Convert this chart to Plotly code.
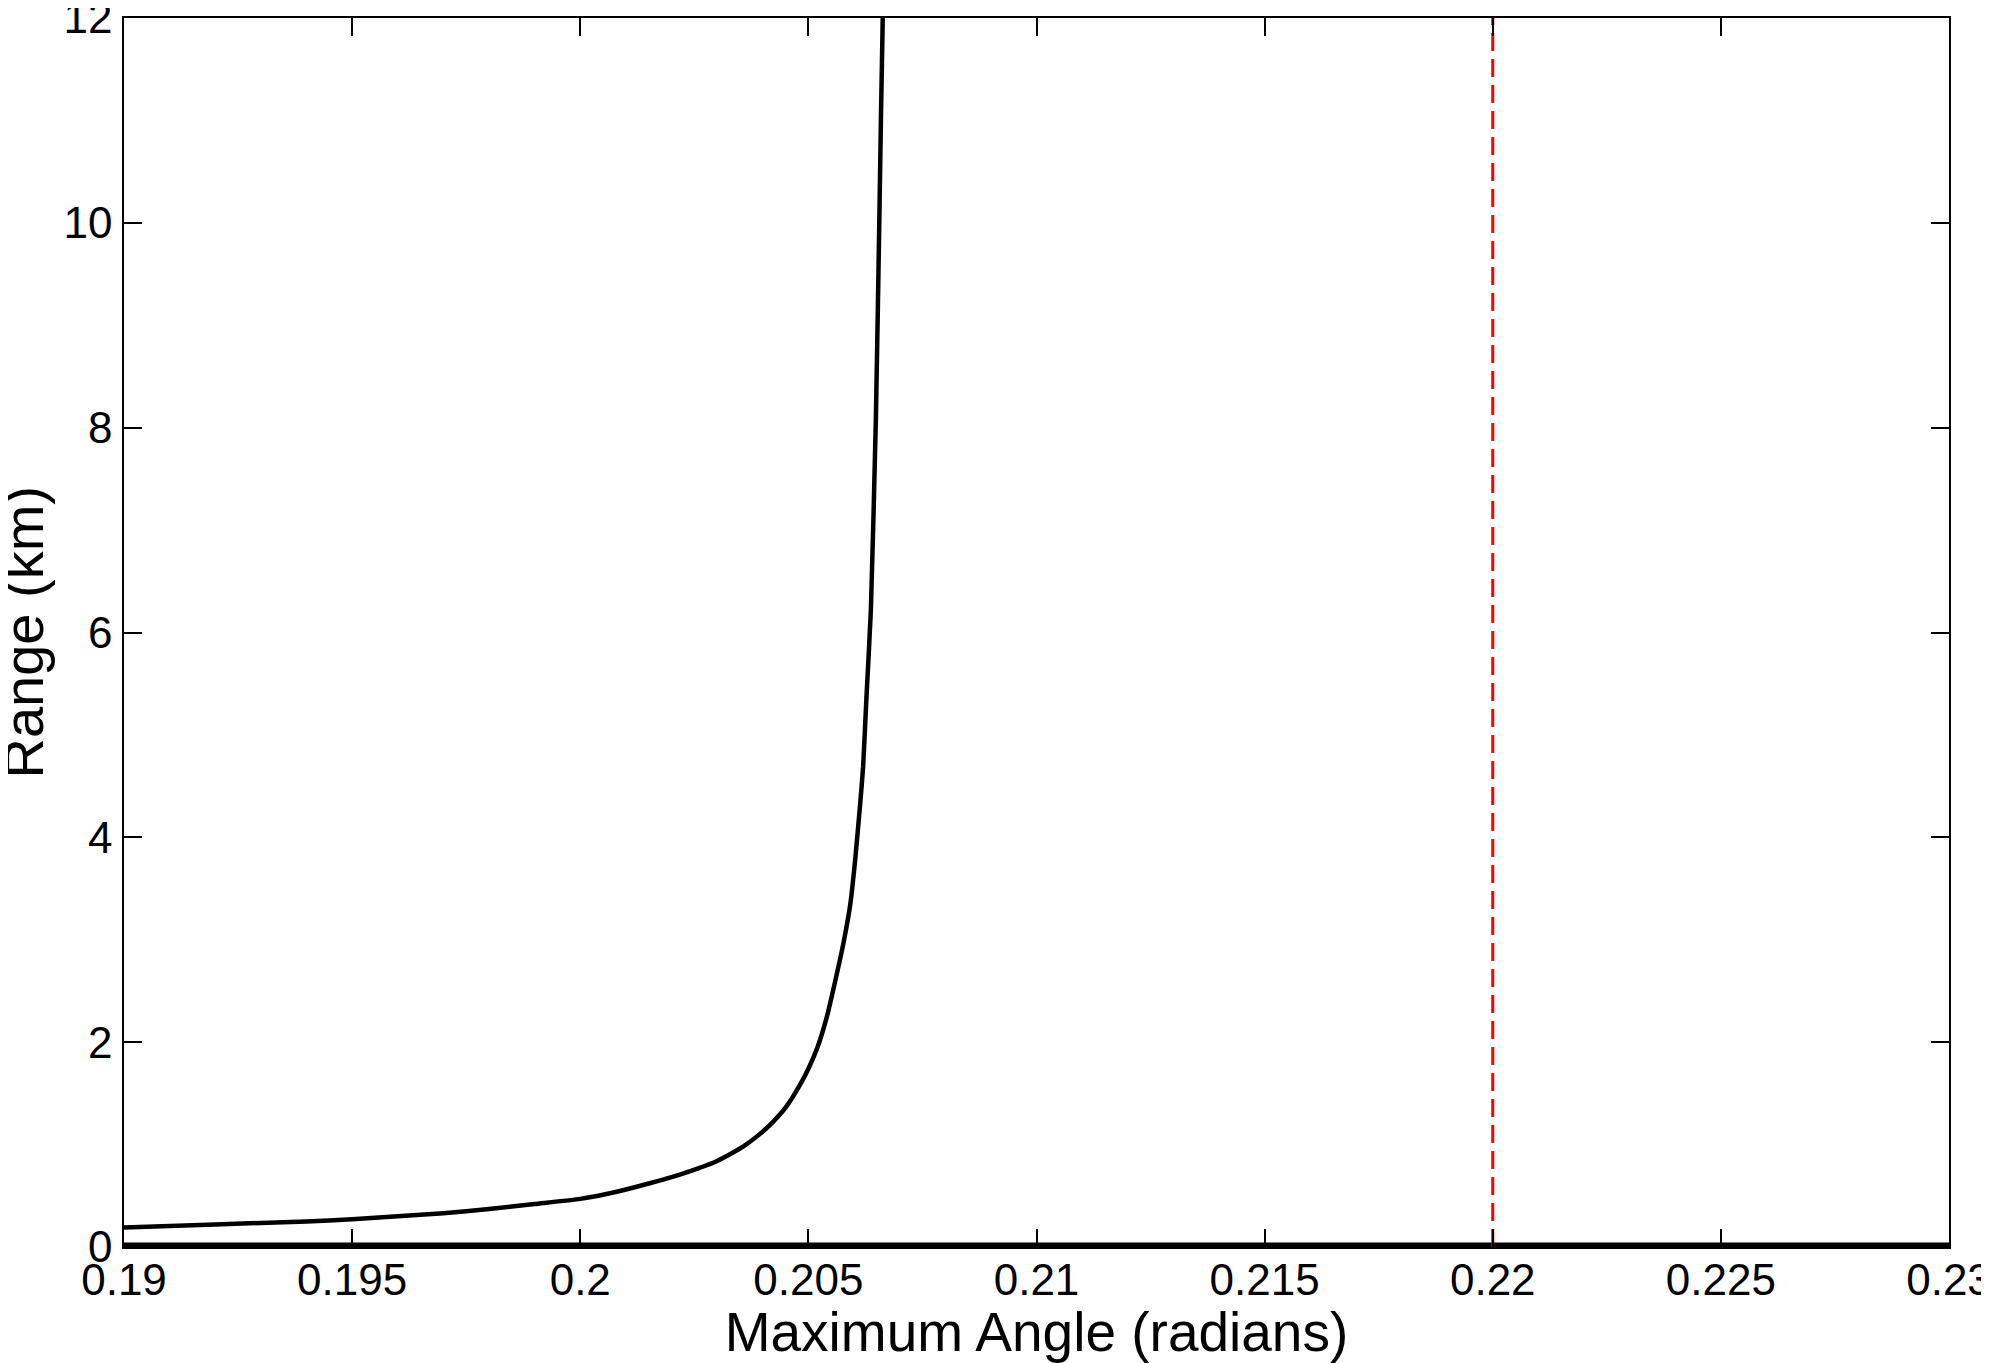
import plotly.graph_objects as go

# Curve: Range (km) vs Maximum Angle (radians)
angle = [0.1900, 0.1920, 0.1940, 0.1950, 0.1960, 0.1970, 0.1980, 0.1990, 0.2000,
         0.2008, 0.2015, 0.2022, 0.2026, 0.2030, 0.2033, 0.2036, 0.2039, 0.2042,
         0.2045, 0.2048, 0.2050, 0.2052, 0.2054, 0.2056, 0.20577, 0.20592,
         0.20603, 0.20613, 0.20620, 0.20627, 0.20637, 0.20648, 0.20656, 0.20663,
         0.20668]
range_km = [0.19, 0.22, 0.25, 0.27, 0.30, 0.33, 0.37, 0.42, 0.47,
            0.54, 0.62, 0.71, 0.77, 0.84, 0.91, 0.99, 1.09, 1.21,
            1.36, 1.57, 1.74, 1.95, 2.24, 2.62, 2.97, 3.35,
            3.80, 4.30, 4.69, 5.34, 6.22, 8.10, 10.16, 12.0,
            12.5]

# zero-range baseline
base_x = [0.19, 0.23]
base_y = [0, 0]

# red dashed limit
limit_x = [0.22, 0.22]
limit_y = [0, 12]

x_ticks = [0.19, 0.195, 0.2, 0.205, 0.21, 0.215, 0.22, 0.225, 0.23]
x_ticktext = ["0.19", "0.195", "0.2", "0.205", "0.21", "0.215", "0.22", "0.225", "0.23"]
y_ticks = [0, 2, 4, 6, 8, 10, 12]
y_ticktext = ["0", "2", "4", "6", "8", "10", "12"]

x_title = "Maximum Angle (radians)"
y_title = "Range (km)"

FONT = "Liberation Sans, Arial, Helvetica, sans-serif"

fig = go.Figure()
fig.add_trace(go.Scatter(x=base_x, y=base_y, mode="lines",
                         line=dict(color="black", width=9), showlegend=False))
fig.add_trace(go.Scatter(x=limit_x, y=limit_y, mode="lines",
                         line=dict(color="#ff0000", width=3, dash="18px,8px"),
                         showlegend=False))
fig.add_trace(go.Scatter(x=angle, y=range_km, mode="lines",
                         line=dict(color="black", width=4.5, shape="spline", smoothing=0.5),
                         showlegend=False))

axis_common = dict(
    showline=True, linecolor="black", linewidth=1.5, mirror="ticks",
    ticks="inside", ticklen=18, tickwidth=1.5, tickcolor="black",
    showgrid=False, zeroline=False, automargin=False,
    ticklabeloverflow="allow",
    tickfont=dict(family=FONT, size=44, color="black"),
)

# the page body adds an 8 px offset, so the figure is sized to fit inside the window
fig.update_layout(
    width=1981, height=1355, autosize=False,
    margin=dict(l=116, r=40, t=10, b=116),
    paper_bgcolor="white", plot_bgcolor="white",
    font=dict(family=FONT, color="black"),
    xaxis=dict(range=[0.19, 0.23], tickvals=x_ticks, ticktext=x_ticktext,
               ticklabelstandoff=-7,
               title=dict(text=x_title,
                          font=dict(family=FONT, size=55, color="black"),
                          standoff=10),
               **axis_common),
    yaxis=dict(range=[0, 12], tickvals=y_ticks, ticktext=y_ticktext,
               ticklabelstandoff=1,
               **axis_common),
    annotations=[dict(text=y_title, xref="paper", yref="paper", x=0, y=0.5,
                      xanchor="center", yanchor="middle", textangle=-90,
                      xshift=-101, showarrow=False,
                      font=dict(family=FONT, size=56, color="black"))],
)

fig.write_html("out.html")
